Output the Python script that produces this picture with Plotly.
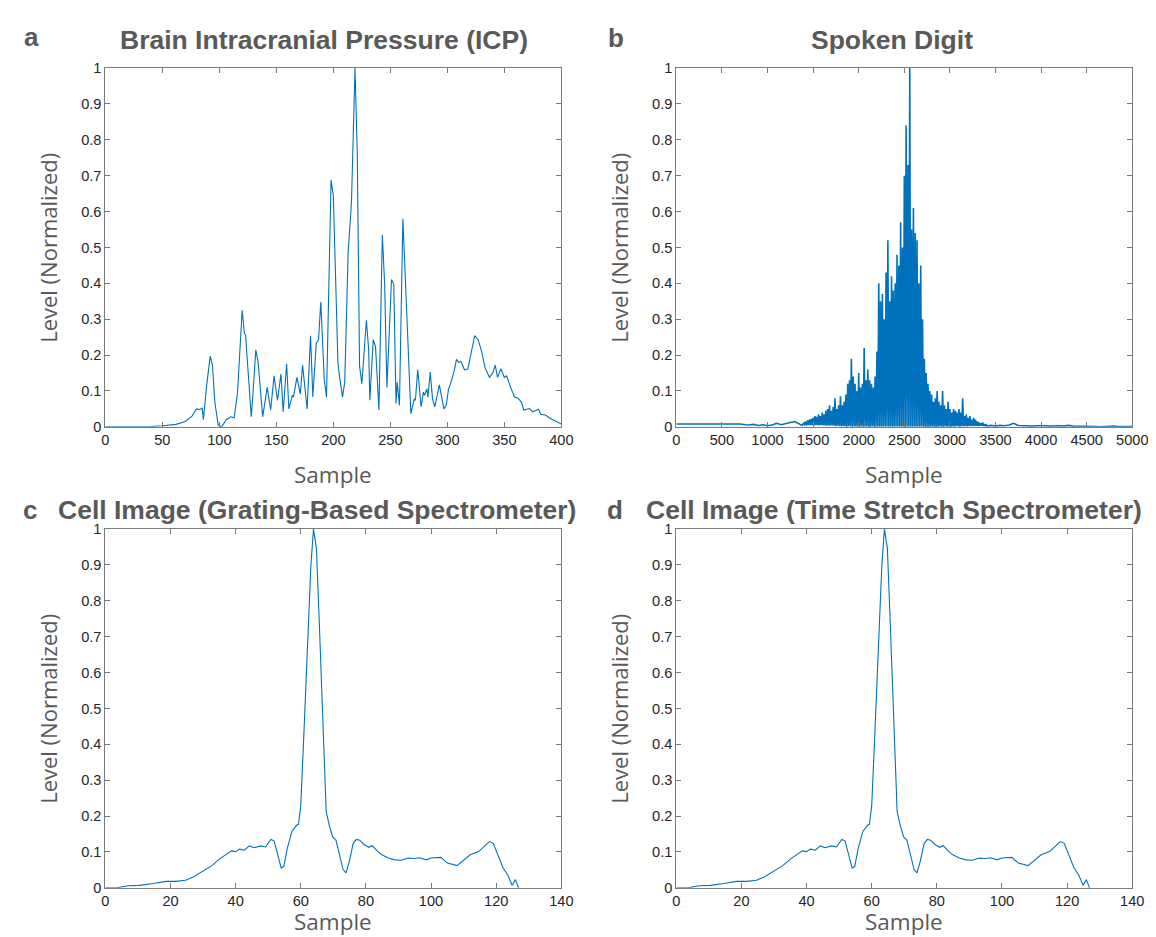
import plotly.graph_objects as go

# ---------------- Data ----------------
# a: Brain Intracranial Pressure
icp_sample = [0, 20, 40, 50, 62, 70, 76, 80, 83, 85, 86, 89, 92, 94, 96, 99, 102, 106, 110, 113,
              116, 120, 122, 123, 125, 128, 129, 132, 134, 138, 142, 145, 148, 151, 154, 156, 159,
              161, 164, 165, 168, 171, 173, 177, 180, 182, 185, 187, 189, 192, 194, 196, 198, 200,
              202, 204, 205, 208, 210, 213, 215, 216, 219, 221, 223, 225, 229, 231, 232, 235, 237,
              240, 243, 245, 247, 251, 253, 255, 256, 258, 261, 263, 265, 268, 271, 272, 274, 277,
              279, 280, 282, 283, 285, 287, 289, 293, 297, 299, 301, 304, 306, 308, 310, 312, 315,
              318, 321, 324, 327, 330, 333, 337, 340, 342, 344, 347, 350, 352, 356, 359, 362, 365,
              367, 372, 375, 380, 382, 386, 390, 396, 400]
icp_level = [0.0, 0.0, 0.001, 0.003, 0.007, 0.015, 0.03, 0.05, 0.048, 0.053, 0.02, 0.12, 0.197, 0.17,
             0.07, 0.005, 0.0, 0.02, 0.028, 0.025, 0.097, 0.325, 0.26, 0.256, 0.16, 0.028, 0.07,
             0.215, 0.18, 0.028, 0.11, 0.047, 0.142, 0.074, 0.147, 0.042, 0.176, 0.05, 0.088, 0.083,
             0.138, 0.092, 0.172, 0.05, 0.254, 0.083, 0.233, 0.243, 0.348, 0.133, 0.083, 0.398,
             0.688, 0.644, 0.398, 0.18, 0.151, 0.083, 0.124, 0.489, 0.58, 0.635, 1.0, 0.763, 0.17,
             0.12, 0.297, 0.215, 0.074, 0.243, 0.224, 0.047, 0.535, 0.398, 0.11, 0.411, 0.398,
             0.065, 0.124, 0.06, 0.58, 0.398, 0.27, 0.037, 0.078, 0.074, 0.16, 0.056, 0.097, 0.088,
             0.106, 0.083, 0.153, 0.078, 0.056, 0.117, 0.05, 0.06, 0.104, 0.133, 0.156, 0.188,
             0.179, 0.182, 0.159, 0.161, 0.211, 0.254, 0.243, 0.211, 0.165, 0.138, 0.151, 0.172,
             0.138, 0.162, 0.138, 0.142, 0.106, 0.083, 0.08, 0.069, 0.047, 0.051, 0.042, 0.049,
             0.035, 0.033, 0.024, 0.015, 0.008]

# b: Spoken Digit
digit_lead_sample = [0, 100, 200, 300, 400, 500, 600, 700, 760, 800, 850, 900, 950, 1000, 1050,
                     1100, 1150, 1200, 1250, 1300, 1340, 1380]
digit_lead_level = [0.008, 0.008, 0.008, 0.008, 0.009, 0.009, 0.008, 0.008, 0.006, 0.005, 0.007,
                    0.004, 0.006, 0.003, 0.005, 0.01, 0.006, 0.008, 0.012, 0.015, 0.01, 0.004]
digit_burst_sample = list(range(1400, 3420, 20))
digit_burst_peak = [0.012, 0.015, 0.018, 0.02, 0.022, 0.025, 0.03, 0.028, 0.035, 0.03, 0.04, 0.035,
                    0.045, 0.05, 0.06, 0.045, 0.055, 0.08, 0.05, 0.06, 0.085, 0.06, 0.07, 0.09,
                    0.12, 0.13, 0.19, 0.14, 0.12, 0.10, 0.15, 0.11, 0.12, 0.22, 0.13, 0.16, 0.13,
                    0.12, 0.11, 0.14, 0.21, 0.40, 0.35, 0.37, 0.30, 0.43, 0.52, 0.35, 0.42, 0.38,
                    0.40, 0.48, 0.45, 0.57, 0.50, 0.70, 0.84, 0.73, 1.0, 0.55, 0.61, 0.54, 0.52,
                    0.40, 0.45, 0.30, 0.19, 0.15, 0.12, 0.10, 0.09, 0.07, 0.08, 0.10, 0.07, 0.06,
                    0.10, 0.06, 0.05, 0.07, 0.05, 0.04, 0.05, 0.045, 0.04, 0.05, 0.04, 0.08, 0.03,
                    0.035, 0.025, 0.03, 0.02, 0.025, 0.02, 0.015, 0.012, 0.01, 0.012, 0.008, 0.006]
digit_burst_trough = [0.004, 0.004, 0.005, 0.005, 0.005, 0.004, 0.005, 0.005, 0.004, 0.005, 0.004,
                      0.004, 0.003, 0.004, 0.003, 0.004, 0.003, 0.002, 0.003, 0.002, 0.001, 0.002,
                      0.001, 0.0, 0.002, 0.001, 0.0, 0.001, 0.0, 0.002, 0.0, 0.001, 0.0, 0.0, 0.001,
                      0.0, 0.0, 0.001, 0.0, 0.0, 0.0, 0.0, 0.0, 0.0, 0.0, 0.0, 0.0, 0.0, 0.0, 0.0,
                      0.0, 0.0, 0.0, 0.0, 0.0, 0.0, 0.0, 0.0, 0.0, 0.0, 0.0, 0.0, 0.0, 0.0, 0.0,
                      0.0, 0.0, 0.0, 0.0, 0.0, 0.001, 0.0, 0.0, 0.0, 0.001, 0.0, 0.0, 0.001, 0.0,
                      0.001, 0.0, 0.001, 0.0, 0.002, 0.001, 0.0, 0.002, 0.001, 0.002, 0.001, 0.002,
                      0.002, 0.003, 0.002, 0.003, 0.002, 0.003, 0.003, 0.002, 0.003, 0.002]
digit_tail_sample = [3450, 3500, 3550, 3600, 3650, 3700, 3750, 3800, 3850, 3900, 3950, 4000, 4050,
                     4100, 4150, 4200, 4250, 4300, 4350, 4400, 4450, 4500, 4550, 4600, 4650, 4700,
                     4750, 4800, 4850, 4900, 4950, 5000]
digit_tail_level = [0.004, 0.002, 0.004, 0.003, 0.005, 0.01, 0.004, 0.003, 0.004, 0.002, 0.003,
                    0.004, 0.003, 0.002, 0.003, 0.003, 0.002, 0.004, 0.002, 0.002, 0.003, 0.001,
                    0.002, 0.001, 0.0, 0.001, 0.002, 0.002, 0.001, 0.002, 0.001, 0.001]

# c / d: Cell image spectra
cell_sample = [0, 3.5, 7, 10.5, 14.6, 18.6, 21.6, 24.6, 27, 30, 32.7, 35, 37, 38.7, 40, 41.2, 42.7,
               44.2, 45.7, 47.7, 49.2, 50.8, 51.8, 52.8, 54, 54.8, 55.8, 57.3, 58.8, 59.3, 60,
               60.8, 62, 63.1, 63.9, 64.8, 65.6, 66.8, 67.8, 68.8, 69.8, 70.8, 71.8, 73, 73.9,
               74.9, 76.1, 77.1, 78.1, 79.4, 80.9, 81.9, 83.4, 84.9, 86.9, 88.9, 90.9, 92.9, 94.9,
               96.5, 98.5, 100, 103, 105, 108, 110, 112, 114.6, 116.1, 117.9, 119.1, 120.6, 122.1,
               123.6, 124.9, 125.9, 126.9, 127]
cell_grating_level = [0.0, 0.0, 0.006, 0.007, 0.012, 0.018, 0.018, 0.021, 0.03, 0.046, 0.062, 0.08,
                      0.092, 0.103, 0.101, 0.108, 0.105, 0.117, 0.112, 0.117, 0.114, 0.135, 0.131,
                      0.094, 0.055, 0.06, 0.108, 0.158, 0.175, 0.177, 0.23, 0.395, 0.669, 0.897,
                      1.0, 0.947, 0.76, 0.44, 0.213, 0.172, 0.142, 0.133, 0.097, 0.051, 0.042,
                      0.074, 0.124, 0.135, 0.133, 0.121, 0.113, 0.118, 0.104, 0.092, 0.083, 0.078,
                      0.077, 0.083, 0.082, 0.084, 0.078, 0.083, 0.085, 0.069, 0.062, 0.078, 0.092,
                      0.101, 0.115, 0.129, 0.124, 0.092, 0.056, 0.035, 0.007, 0.023, 0.0, -0.003]
cell_timestretch_level = [0.0, 0.0, 0.006, 0.007, 0.012, 0.018, 0.018, 0.021, 0.03, 0.046, 0.062,
                          0.08, 0.092, 0.103, 0.101, 0.108, 0.105, 0.117, 0.112, 0.117, 0.114,
                          0.135, 0.131, 0.094, 0.055, 0.06, 0.108, 0.158, 0.175, 0.177, 0.23,
                          0.395, 0.669, 0.897, 1.0, 0.947, 0.76, 0.44, 0.213, 0.172, 0.142, 0.133,
                          0.097, 0.051, 0.042, 0.074, 0.124, 0.135, 0.133, 0.121, 0.113, 0.118,
                          0.104, 0.092, 0.083, 0.078, 0.077, 0.083, 0.082, 0.084, 0.078, 0.083,
                          0.085, 0.069, 0.062, 0.078, 0.092, 0.101, 0.115, 0.129, 0.124, 0.092,
                          0.056, 0.035, 0.007, 0.023, 0.0, -0.003]

titles = ["Brain Intracranial Pressure (ICP)", "Spoken Digit",
          "Cell Image (Grating-Based Spectrometer)", "Cell Image (Time Stretch Spectrometer)"]
letters = ["a", "b", "c", "d"]
x_ranges = [[0, 400], [0, 5000], [0, 140], [0, 140]]
x_dticks = [50, 500, 20, 20]

# ---------------- Build spoken-digit trace (peaks interleaved with troughs) ----------------
digit_x = list(digit_lead_sample)
digit_y = list(digit_lead_level)
for s, p, t in zip(digit_burst_sample, digit_burst_peak, digit_burst_trough):
    digit_x += [s, s + 10]
    digit_y += [p, t]
digit_x += digit_tail_sample
digit_y += digit_tail_level

# ---------------- Figure ----------------
W, H = 1156, 937
LINE = "#0072BD"
AX = "#7a7a7a"
TXT = "#595959"


def fx(p):
    return p / W


def fy(p):
    return 1 - p / H


fig = go.Figure()
series = [(icp_sample, icp_level), (digit_x, digit_y),
          (cell_sample, cell_grating_level), (cell_sample, cell_timestretch_level)]
widths = [1.1, 1.6, 1.1, 1.1]
for i, (xs, ys) in enumerate(series):
    fig.add_trace(go.Scatter(x=xs, y=ys, mode="lines",
                             line=dict(color=LINE, width=widths[i]),
                             xaxis="x" + ("" if i == 0 else str(i + 1)),
                             yaxis="y" + ("" if i == 0 else str(i + 1)),
                             showlegend=False, hoverinfo="skip"))

# pixel boxes of the four axes
px_x = [(95, 559), (676, 1140), (95, 559), (676, 1140)]
px_y = [(53, 418), (53, 418), (522, 887), (522, 887)]
title_pos = [(317, 24), (896, 24), (310, 503), (898, 503)]
letter_pos = [(10, 21), (604, 22), (9, 503), (603, 503)]

layout = dict(width=W, height=H, margin=dict(l=0, r=0, t=0, b=0),
              paper_bgcolor="white", plot_bgcolor="white", showlegend=False)
annotations = []
for i in range(4):
    sx = "" if i == 0 else str(i + 1)
    xd = [fx(px_x[i][0]), fx(px_x[i][1])]
    yd = [fy(px_y[i][1]), fy(px_y[i][0])]
    common = dict(showline=True, linecolor=AX, linewidth=1, mirror="ticks", ticks="inside",
                  ticklen=5, tickcolor=AX, showgrid=False, zeroline=False,
                  tickfont=dict(family="Liberation Sans, Arial", size=14.6, color="#262626"))
    layout["xaxis" + sx] = dict(domain=xd, range=x_ranges[i], dtick=x_dticks[i], tick0=0,
                                anchor="y" + sx, **common)
    layout["yaxis" + sx] = dict(domain=yd, range=[0, 1], dtick=0.1, tick0=0,
                                anchor="x" + sx, **common)
    cx = (px_x[i][0] + px_x[i][1]) / 2
    annotations.append(dict(text="<b>" + titles[i] + "</b>", x=fx(title_pos[i][0]),
                            y=fy(title_pos[i][1]), xref="paper", yref="paper",
                            xanchor="center", yanchor="middle", showarrow=False,
                            font=dict(family="Liberation Sans, Arial", size=26.5, color=TXT)))
    annotations.append(dict(text="<b>" + letters[i] + "</b>", x=fx(letter_pos[i][0]),
                            y=fy(letter_pos[i][1]), xref="paper", yref="paper",
                            xanchor="left", yanchor="middle", showarrow=False,
                            font=dict(family="Liberation Sans, Arial", size=26, color=TXT)))
    sy = 466 if i < 2 else 921
    annotations.append(dict(text="Sample", x=fx(cx), y=fy(sy), xref="paper", yref="paper",
                            xanchor="center", yanchor="middle", showarrow=False,
                            font=dict(family="Open Sans", size=22.5, color=TXT)))
    yx = 37 if i % 2 == 0 else 618
    yc = (px_y[i][0] + px_y[i][1]) / 2
    annotations.append(dict(text="Level (Normalized)", x=fx(yx), y=fy(yc),
                            xref="paper", yref="paper",
                            xanchor="center", yanchor="middle",
                            textangle=-90, showarrow=False,
                            font=dict(family="Open Sans", size=22, color=TXT)))
layout["annotations"] = annotations
fig.update_layout(**layout)
fig.write_html("out.html")
